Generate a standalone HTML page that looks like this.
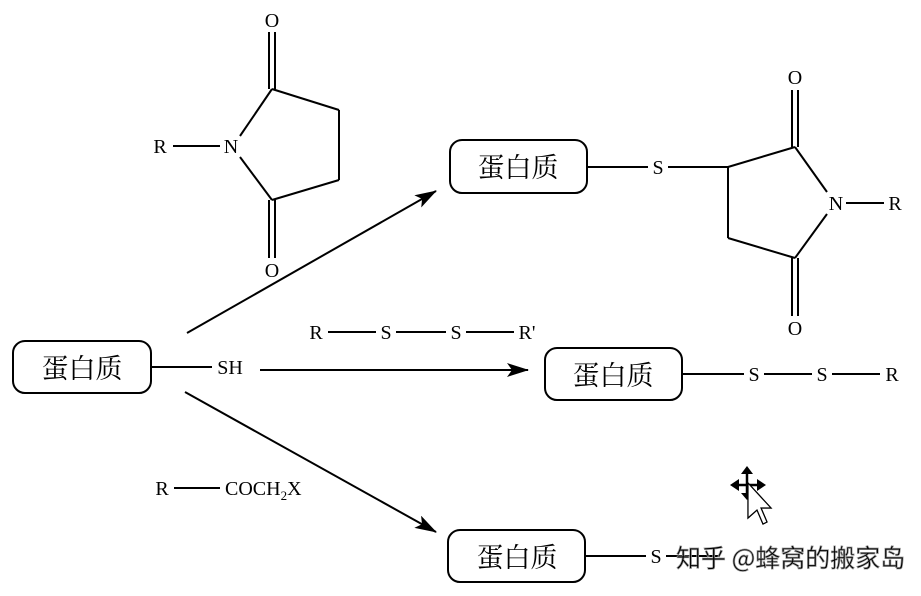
<!DOCTYPE html>
<html><head><meta charset="utf-8"><style>
html,body{margin:0;padding:0;background:#fff;}
svg{display:block}
text{font-family:"Liberation Serif","Noto Serif CJK SC",serif;fill:#000;}
.l{stroke:#000;stroke-width:2;fill:none}
.b{fill:#fff;stroke:#000;stroke-width:2}
.c{font-family:"Liberation Serif","Noto Serif CJK SC","Noto Sans CJK SC",serif;font-size:27px}
.t{font-size:20px}
</style></head><body>
<svg width="921" height="596" viewBox="0 0 921 596" xmlns="http://www.w3.org/2000/svg">
<defs><marker id="a" markerWidth="22" markerHeight="14" refX="21" refY="7" orient="auto" markerUnits="userSpaceOnUse"><path d="M0,0 L22,7 L0,14 L5,7 Z" fill="#000"/></marker></defs>

<text class="t" x="160" y="153" text-anchor="middle">R</text>
<line class="l" x1="173" y1="146" x2="220" y2="146"/>
<text class="t" x="231" y="153" text-anchor="middle">N</text>
<line class="l" x1="240" y1="136" x2="272" y2="89"/>
<line class="l" x1="272" y1="89" x2="339" y2="110"/>
<line class="l" x1="339" y1="110" x2="339" y2="180"/>
<line class="l" x1="339" y1="180" x2="272" y2="200"/>
<line class="l" x1="272" y1="200" x2="240" y2="157"/>
<line class="l" x1="269" y1="32" x2="269" y2="89"/><line class="l" x1="275" y1="32" x2="275" y2="89"/>
<line class="l" x1="269" y1="200" x2="269" y2="258"/><line class="l" x1="275" y1="200" x2="275" y2="258"/>
<text class="t" x="272" y="27" text-anchor="middle">O</text>
<text class="t" x="272" y="277" text-anchor="middle">O</text>

<rect class="b" x="13" y="341" width="138" height="52" rx="12"/>
<text class="c" x="82" y="378" text-anchor="middle">蛋白质</text>
<line class="l" x1="151" y1="367" x2="212" y2="367"/>
<text class="t" x="230" y="374" text-anchor="middle">SH</text>

<line class="l" x1="187" y1="333" x2="436" y2="191" marker-end="url(#a)"/>
<line class="l" x1="260" y1="370" x2="528" y2="370" marker-end="url(#a)"/>
<line class="l" x1="185" y1="392" x2="436" y2="532" marker-end="url(#a)"/>

<rect class="b" x="450" y="140" width="137" height="53" rx="12"/>
<text class="c" x="518" y="177" text-anchor="middle">蛋白质</text>
<line class="l" x1="587" y1="167" x2="648" y2="167"/>
<text class="t" x="658" y="174" text-anchor="middle">S</text>
<line class="l" x1="668" y1="167" x2="728" y2="167"/>
<line class="l" x1="728" y1="167" x2="795" y2="147"/>
<line class="l" x1="795" y1="147" x2="827" y2="192"/>
<line class="l" x1="827" y1="214" x2="795" y2="258"/>
<line class="l" x1="795" y1="258" x2="728" y2="238"/>
<line class="l" x1="728" y1="238" x2="728" y2="167"/>
<text class="t" x="836" y="210" text-anchor="middle">N</text>
<line class="l" x1="846" y1="203" x2="884" y2="203"/>
<text class="t" x="895" y="210" text-anchor="middle">R</text>
<line class="l" x1="792" y1="90" x2="792" y2="147"/><line class="l" x1="798" y1="90" x2="798" y2="147"/>
<line class="l" x1="792" y1="258" x2="792" y2="316"/><line class="l" x1="798" y1="258" x2="798" y2="316"/>
<text class="t" x="795" y="84" text-anchor="middle">O</text>
<text class="t" x="795" y="335" text-anchor="middle">O</text>

<text class="t" x="316" y="339" text-anchor="middle">R</text>
<line class="l" x1="328" y1="332" x2="376" y2="332"/>
<text class="t" x="386" y="339" text-anchor="middle">S</text>
<line class="l" x1="396" y1="332" x2="446" y2="332"/>
<text class="t" x="456" y="339" text-anchor="middle">S</text>
<line class="l" x1="466" y1="332" x2="514" y2="332"/>
<text class="t" x="527" y="339" text-anchor="middle">R'</text>

<rect class="b" x="545" y="348" width="137" height="52" rx="12"/>
<text class="c" x="613" y="385" text-anchor="middle">蛋白质</text>
<line class="l" x1="682" y1="374" x2="744" y2="374"/>
<text class="t" x="754" y="381" text-anchor="middle">S</text>
<line class="l" x1="764" y1="374" x2="812" y2="374"/>
<text class="t" x="822" y="381" text-anchor="middle">S</text>
<line class="l" x1="832" y1="374" x2="880" y2="374"/>
<text class="t" x="892" y="381" text-anchor="middle">R</text>

<text class="t" x="162" y="495" text-anchor="middle">R</text>
<line class="l" x1="174" y1="488" x2="220" y2="488"/>
<text class="t" x="225" y="495">COCH<tspan font-size="13" dy="5">2</tspan><tspan dy="-5">X</tspan></text>

<rect class="b" x="448" y="530" width="137" height="52" rx="12"/>
<text class="c" x="517" y="567" text-anchor="middle">蛋白质</text>
<line class="l" x1="585" y1="556" x2="646" y2="556"/>
<text class="t" x="656" y="563" text-anchor="middle">S</text>
<line class="l" x1="666" y1="556" x2="720" y2="556"/>
<text x="676" y="567" font-size="25" fill="#eee" stroke="#999" stroke-width="0.7" style="font-family:'Noto Sans CJK SC',sans-serif">知乎 @蜂窝的搬家岛</text>

<path d="M748,483 L771,508 L761,508 L767,522 L763,524 L757,510 L748,518 Z" fill="#fff" stroke="#000" stroke-width="1.2"/>
<path d="M747,466 L741,474 L753,474 Z M730,485 L739,479 L739,491 Z M766,485 L757,479 L757,491 Z M747,500 L741,493 L753,493 Z" fill="#000"/>
<line x1="747" y1="474" x2="747" y2="494" stroke="#000" stroke-width="2.5"/>
<line x1="739" y1="485" x2="757" y2="485" stroke="#000" stroke-width="2.5"/>
<path d="M748,483 L771,508 L761,508 L767,522 L763,524 L757,510 L748,518 Z" fill="#fff" stroke="#000" stroke-width="1.2"/>
</svg>
</body></html>
